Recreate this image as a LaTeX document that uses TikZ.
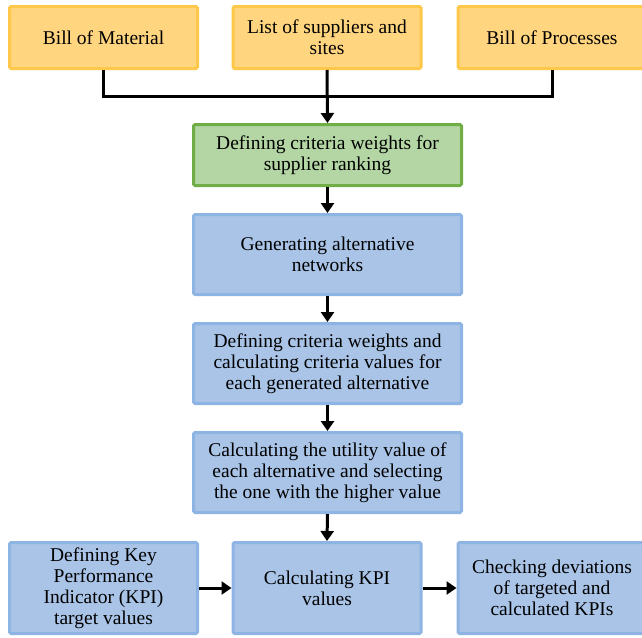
\documentclass[tikz,border=0pt]{standalone}
\usepackage{fontspec}
\setmainfont{Liberation Serif}
\usetikzlibrary{positioning,arrows.meta}

\definecolor{inputfill}{RGB}{255,213,128}
\definecolor{inputdraw}{RGB}{255,200,74}
\definecolor{rankfill}{RGB}{179,214,164}
\definecolor{rankdraw}{RGB}{112,173,71}
\definecolor{stepfill}{RGB}{169,196,231}
\definecolor{stepdraw}{RGB}{142,180,227}

\tikzset{
    box/.style={rectangle, line width=3pt, rounded corners=1.5pt, align=center,
        inner sep=2pt, font=\fontsize{19.5}{21}\selectfont},
    inputbox/.style={box, fill=inputfill, draw=inputdraw, minimum width=188pt, minimum height=62pt},
    rankbox/.style={box, fill=rankfill, draw=rankdraw, minimum width=268pt, minimum height=61pt},
    stepbox/.style={box, fill=stepfill, draw=stepdraw, minimum width=268pt, minimum height=80pt},
    kpibox/.style={box, fill=stepfill, draw=stepdraw, minimum width=188pt, minimum height=91pt},
    flow/.style={line width=3pt, -{Triangle[length=10pt,width=13pt]}},
    link/.style={line width=3pt}
}

\begin{document}
\begin{tikzpicture}[x=1pt, y=-1pt]
    \useasboundingbox (0,0) rectangle (642,637);

    \node[inputbox] (bom) at (103.5,37.5) {Bill of Material};
    \node[inputbox] (sup) at (327,37.5) {List of suppliers and\\sites};
    \node[inputbox] (bop) at (552,37.5) {Bill of Processes};

    \node[rankbox] (rank) at (327.5,155) {Defining criteria weights for\\supplier ranking};
    \node[stepbox, below=26pt of rank] (gen) {Generating alternative\\networks};
    \node[stepbox, below=26pt of gen] (crit) {Defining criteria weights and\\calculating criteria values for\\each generated alternative};
    \node[stepbox, below=26pt of crit] (util) {Calculating the utility value of\\each alternative and selecting\\the one with the higher value};

    \node[kpibox] (target) at (103.5,588) {Defining Key\\Performance\\Indicator (KPI)\\target values};
    \node[kpibox] (calc) at (327,588) {Calculating KPI\\values};
    \node[kpibox] (check) at (552,588) {Checking deviations\\of targeted and\\calculated KPIs};

    % inputs merge into the ranking step
    \coordinate (merge) at (327,96);
    \draw[link] (bom.south) |- (merge) -| (bop.south);
    \draw[flow] (sup.south) -- (rank.north);

    \draw[flow] (rank) -- (gen);
    \draw[flow] (gen) -- (crit);
    \draw[flow] (crit) -- (util);
    \draw[flow] (util.south) -- (calc.north);
    \draw[flow] (target) -- (calc);
    \draw[flow] (calc) -- (check);
\end{tikzpicture}
\end{document}
